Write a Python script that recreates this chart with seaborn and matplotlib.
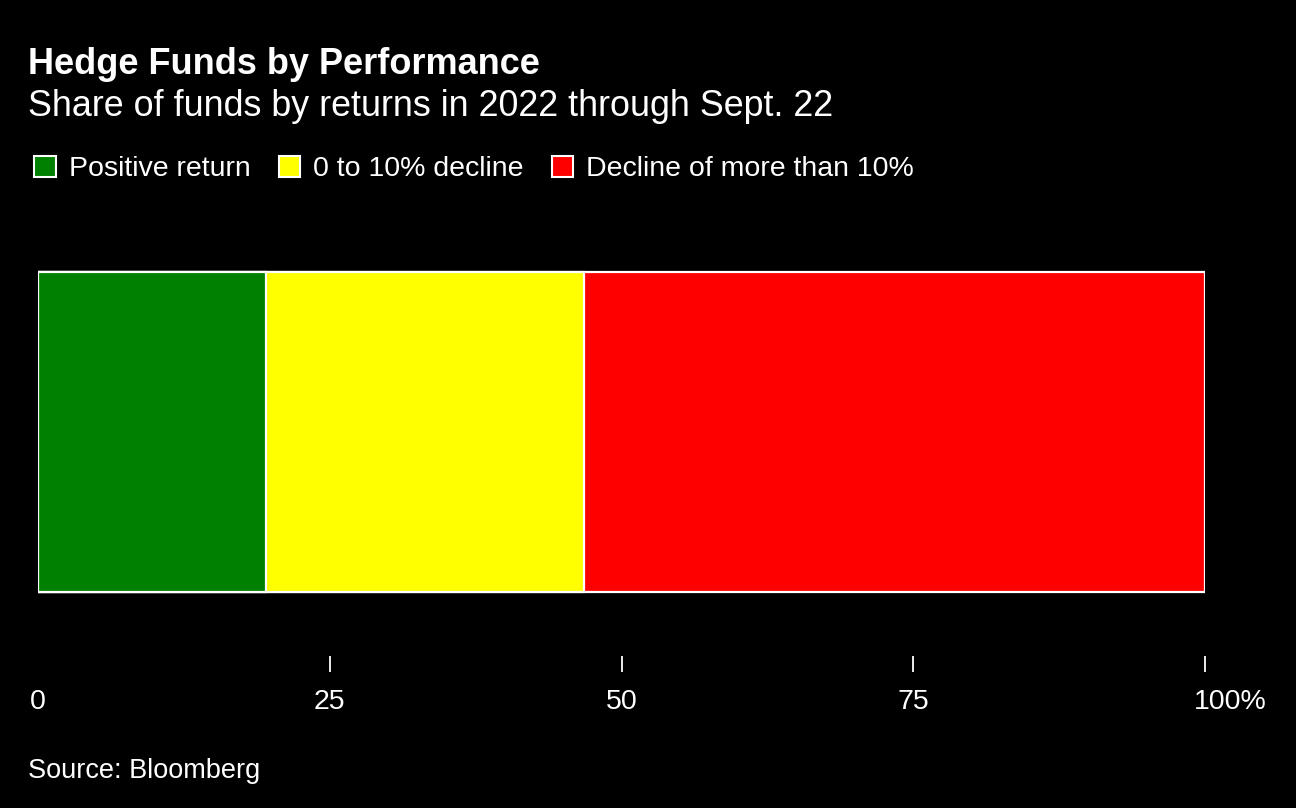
import matplotlib
matplotlib.use("Agg")
import matplotlib.pyplot as plt
import matplotlib.transforms as mtransforms
from matplotlib.patches import Patch
import seaborn as sns
import pandas as pd

categories = ["Positive return", "0 to 10% decline", "Decline of more than 10%"]
shares = [19.5, 27.3, 53.2]
colors = ["#008000", "#ffff00", "#ff0000"]
tick_values = [0, 25, 50, 75, 100]
tick_labels = ["0", "25", "50", "75", "100%"]

sns.set_theme(style="dark")
plt.rcParams["font.family"] = ["Liberation Sans", "DejaVu Sans"]

W, H = 1296, 808
fig = plt.figure(figsize=(W / 100, H / 100), dpi=100, facecolor="black")

def fy(px):
    return 1 - px / H

def fx(px):
    return px / W

ax = fig.add_axes([fx(38), fy(672), fx(1205) - fx(38), fy(232) - fy(672)])
ax.set_facecolor("black")

# cumulative values for stacking, drawn largest first
cum = []
s = 0
for v in shares:
    s += v
    cum.append(s)
df = pd.DataFrame({"row": ["all"] * 3, "cum": cum, "cat": categories})
for i in reversed(range(len(categories))):
    sns.barplot(data=df.iloc[[i]], x="cum", y="row", color=colors[i],
                edgecolor="white", linewidth=1.6, width=0.8, ax=ax,
                saturation=1)

ax.set_xlim(0, 100)
ax.set_ylim(0.6, -0.5)
ax.set_xlabel("")
ax.set_ylabel("")
ax.set_yticks([])
ax.set_xticks(tick_values)
ax.set_xticklabels(tick_labels)
ax.tick_params(axis="x", direction="in", length=11.5, width=1.3, color="white",
               labelcolor="white", labelsize=20.5, pad=12, bottom=True)
ax.xaxis.get_major_ticks()[0].tick1line.set_visible(False)
for sp in ax.spines.values():
    sp.set_visible(False)
ax.grid(False)

# shift "100%" so the number sits centered on its tick
lbl = ax.get_xticklabels()[-1]
lbl.set_transform(lbl.get_transform() + mtransforms.ScaledTranslation(25 / 100, 0, fig.dpi_scale_trans))

fig.text(fx(28), fy(65), "Hedge Funds by Performance", color="white",
         fontsize=26, fontweight="bold", va="center", ha="left")
fig.text(fx(28), fy(107), "Share of funds by returns in 2022 through Sept. 22",
         color="white", fontsize=25.8, va="center", ha="left")
fig.text(fx(28), fy(771), "Source: Bloomberg", color="white", fontsize=19.5,
         va="center", ha="left")

handles = [Patch(facecolor=c, edgecolor="white", linewidth=1.5) for c in colors]
leg = fig.legend(handles, categories, loc="center left",
                 bbox_to_anchor=(fx(23), fy(169)), ncol=3, frameon=False,
                 fontsize=20.5, handlelength=0.75, handleheight=0.75,
                 handletextpad=0.45, columnspacing=1.0, borderaxespad=0)
for t in leg.get_texts():
    t.set_color("white")

fig.savefig("out.png", dpi=100, facecolor="black")
